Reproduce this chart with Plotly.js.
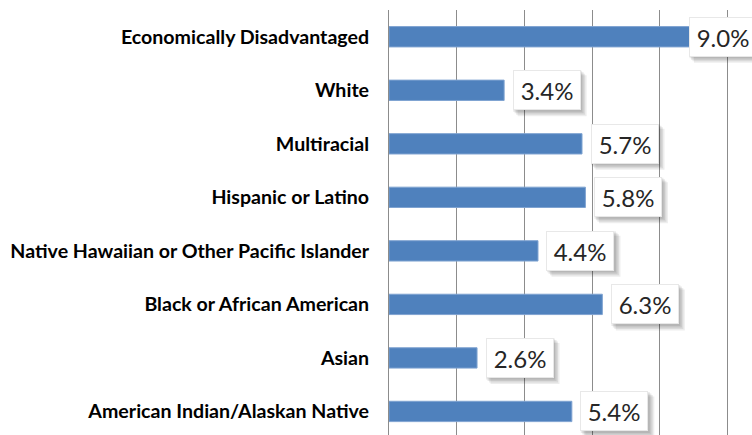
<!DOCTYPE html>
<html>
<head>
<meta charset="utf-8">
<script src="https://cdn.plot.ly/plotly-3.0.1.min.js"></script>
<style>
  html, body { margin: 0; padding: 0; background: #ffffff; }
  #chart { width: 752px; height: 435px; }
</style>
</head>
<body>
<div id="chart"></div>
<script>
// Categories listed top to bottom
const categories = [
  "Economically Disadvantaged",
  "White",
  "Multiracial",
  "Hispanic or Latino",
  "Native Hawaiian or Other Pacific Islander",
  "Black or African American",
  "Asian",
  "American Indian/Alaskan Native"
];
const values = [9.0, 3.4, 5.7, 5.8, 4.4, 6.3, 2.6, 5.4];
const valueLabels = values.map(v => v.toFixed(1) + "%");

const W = 752, H = 435;
const margin = { l: 389, r: 0, t: 9.5, b: 0 };
const xMax = 10.72;
const plotW = W - margin.l - margin.r;
const pxPerUnit = plotW / xMax;

const labelFont = { family: "Lato, 'Open Sans', sans-serif", size: 24, color: "#262626" };
const textW = 54, textH = 26, pad = 6, bw = 1;
const boxW = textW + 2 * pad + 2 * bw;   // 68
const boxH = textH + 2 * pad + 2 * bw;   // 40
const gap = 8.5;

const annotations = [];
const shapes = [];
values.forEach((v, i) => {
  const overflow = v * pxPerUnit + gap + boxW > plotW + 6;
  const base = overflow
    ? { xref: "paper", x: 1, xanchor: "right", xshift: 5 }
    : { xref: "x", x: v, xanchor: "left", xshift: gap };
  const left = overflow ? 5 - boxW : gap;
  // soft shadow layers behind the label box
  [[6, 0.07], [4.5, 0.08], [3, 0.09], [1.5, 0.08]].forEach(([d, a]) => {
    shapes.push({
      type: "rect", layer: "above",
      xref: overflow ? "paper" : "x", xsizemode: "pixel", xanchor: overflow ? 1 : v,
      x0: left + d - 1, x1: left + boxW + d,
      yref: "y", ysizemode: "pixel", yanchor: i,
      y0: -boxH / 2 - d, y1: boxH / 2 - d + 1,
      fillcolor: "rgba(0,0,0," + a + ")", line: { width: 0 }
    });
  });
  annotations.push(Object.assign({}, base, {
    yref: "y", y: categories[i], yanchor: "middle",
    text: valueLabels[i], showarrow: false,
    width: textW, height: textH, align: "center", valign: "middle",
    font: labelFont,
    bgcolor: "#ffffff", borderpad: pad, borderwidth: bw, bordercolor: "#e8e8e8"
  }));
});

const trace = {
  type: "bar",
  orientation: "h",
  x: values,
  y: categories,
  marker: { color: "#4F81BD", line: { color: "#7FA3D1", width: 1 } },
  hoverinfo: "none"
};

const layout = {
  width: W, height: H,
  margin: margin,
  paper_bgcolor: "#ffffff",
  plot_bgcolor: "#ffffff",
  showlegend: false,
  bargap: 0.62,
  xaxis: {
    range: [0, xMax],
    dtick: 2, tick0: 0,
    showgrid: true, gridcolor: "#8c8c8c", gridwidth: 1,
    zeroline: false, showticklabels: false, ticks: "", showline: false,
    fixedrange: true
  },
  yaxis: {
    type: "category",
    range: [7.44, -0.5],
    showgrid: false, zeroline: false,
    showline: true, linecolor: "#8c8c8c", linewidth: 1,
    ticks: "", ticklabelstandoff: 15,
    tickfont: { family: "Lato, 'Open Sans', sans-serif", size: 19.6, color: "#000000", weight: 700 },
    fixedrange: true
  },
  shapes: shapes,
  annotations: annotations
};

Plotly.newPlot("chart", [trace], layout, { displayModeBar: false, staticPlot: true });
</script>
</body>
</html>
